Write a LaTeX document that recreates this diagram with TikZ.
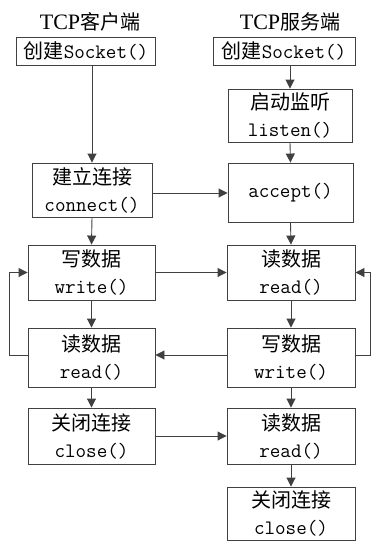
\documentclass[tikz,border=0pt]{standalone}
\usepackage{fontspec}
\setmainfont{Liberation Serif}
\newfontfamily\cjk{Noto Sans CJK SC}
\usetikzlibrary{arrows.meta}
\tikzset{
  box/.style={draw=black!75, line width=0.9pt, align=center, inner sep=0pt,
    font=\fontsize{20}{27}\selectfont},
  conn/.style={draw=black!75, line width=0.9pt, -{Triangle[length=9pt,width=9pt]}},
  ttl/.style={font=\fontsize{22}{24}\selectfont}
}
\newcommand{\cn}[1]{{\cjk #1}}
\newcommand{\cd}[1]{{\ttfamily\fontsize{20.5}{27}\selectfont #1}}
\begin{document}
\begin{tikzpicture}[x=1pt,y=-1pt]
\useasboundingbox (0,0) rectangle (377,541);
\node[ttl] (t1) at (90,22) {TCP\cn{\fontsize{20}{24}\selectfont 客户端}};
\node[ttl] (t2) at (290,22) {TCP\cn{\fontsize{20}{24}\selectfont 服务端}};
\node[box, minimum width=139pt, minimum height=28pt] (cs) at (86,51) {\cn{创建}\cd{Socket()}};
\node[box, minimum width=142pt, minimum height=28pt] (ss) at (284,51) {\cn{创建}\cd{Socket()}};
\node[box, minimum width=124pt, minimum height=53pt] (sl) at (290,115.5) {\cn{启动监听}\\\cd{listen()}};
\node[box, minimum width=120pt, minimum height=54pt] (cc) at (92,190) {\cn{建立连接}\\\cd{connect()}};
\node[box, minimum width=125pt, minimum height=59pt] (sa) at (290.5,192.5) {\cd{accept()}};
\node[box, minimum width=127pt, minimum height=55pt] (cw) at (91.5,272.5) {\cn{写数据}\\\cd{write()}};
\node[box, minimum width=128pt, minimum height=55pt] (sr) at (291,272.5) {\cn{读数据}\\\cd{read()}};
\node[box, minimum width=127pt, minimum height=59pt] (cr) at (91.5,357.5) {\cn{读数据}\\\cd{read()}};
\node[box, minimum width=128pt, minimum height=59pt] (sw) at (291,357.5) {\cn{写数据}\\\cd{write()}};
\node[box, minimum width=127pt, minimum height=56pt] (cx) at (91.5,436) {\cn{关闭连接}\\\cd{close()}};
\node[box, minimum width=128pt, minimum height=56pt] (sr2) at (291,436) {\cn{读数据}\\\cd{read()}};
\node[box, minimum width=128pt, minimum height=53pt] (sx) at (291,513.5) {\cn{关闭连接}\\\cd{close()}};
\coordinate (lx) at (9,0);
\coordinate (rx) at (370,0);
\draw[conn] (cs.south -| cc.north) -- (cc.north);
\draw[conn] (ss.south -| sl.north) -- (sl.north);
\draw[conn] (sl.south) -- (sa.north);
\draw[conn] (cc.east |- 0,193) -- (sa.west |- 0,193);
\draw[conn] (cc.south) -- (cw.north);
\draw[conn] (sa.south) -- (sr.north);
\draw[conn] (cw.east) -- (sr.west);
\draw[conn] (cw.south) -- (cr.north);
\draw[conn] (sr.south) -- (sw.north);
\draw[conn] (sw.west |- 0,355) -- (cr.east |- 0,355);
\draw[conn] (cr.west |- 0,355) -- (lx |- 0,355) |- (cw.west);
\draw[conn] (sw.east |- 0,355) -- (rx |- 0,355) |- (sr.east);
\draw[conn] (cr.south) -- (cx.north);
\draw[conn] (sw.south) -- (sr2.north);
\draw[conn] (cx.east) -- (sr2.west);
\draw[conn] (sr2.south) -- (sx.north);
\end{tikzpicture}
\end{document}
